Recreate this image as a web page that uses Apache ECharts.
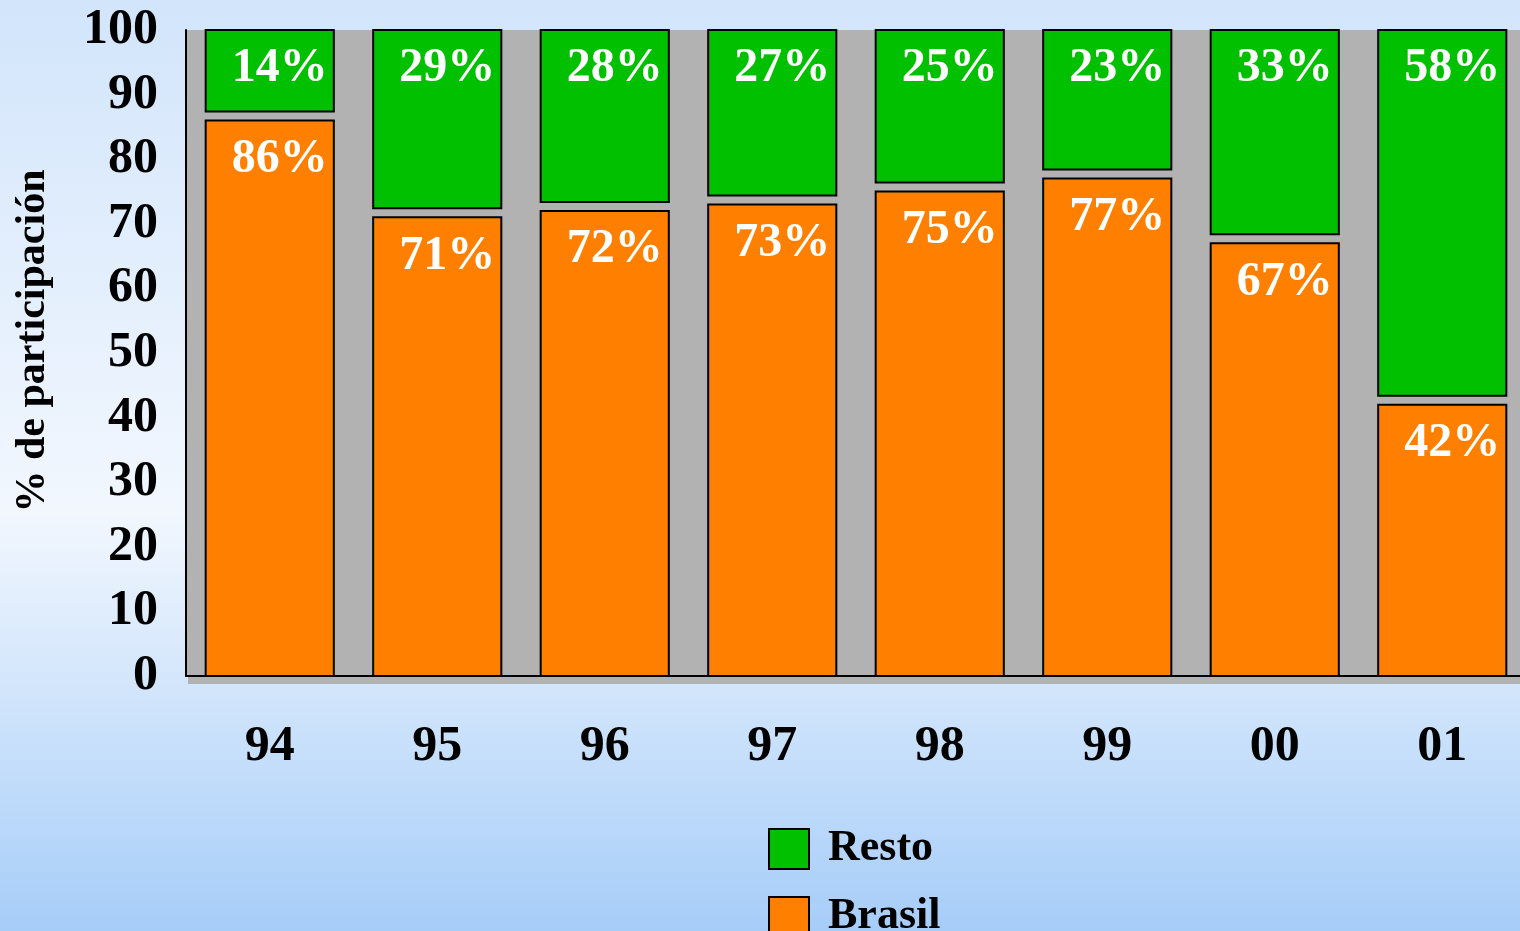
<!DOCTYPE html>
<html>
<head>
<meta charset="utf-8">
<script src="https://cdn.jsdelivr.net/npm/echarts@6/dist/echarts.min.js"></script>
<style>
  html, body { margin: 0; padding: 0; }
  #chart { width: 1520px; height: 931px; }
</style>
</head>
<body>
<div id="chart"></div>
<script>
const years = ["94", "95", "96", "97", "98", "99", "00", "01"];
const brasil = [86, 71, 72, 73, 75, 77, 67, 42];
const resto = [14, 29, 28, 27, 25, 23, 33, 58];
const yTicks = { min: 0, max: 100, interval: 10 };

const serif = "'Liberation Serif', 'DejaVu Serif', serif";
const orange = "#ff8000";
const green = "#00c000";
const barRatio = 0.765;
const gap = 9;

// one stacked segment, with its white % label in the top right corner
function segment(api, color, base, value, shrinkBottom) {
  const idx = api.value(0);
  const top = api.coord([idx, base + value]);
  const bottom = api.coord([idx, base]);
  const w = api.size([1, 0])[0] * barRatio;
  const h = bottom[1] - top[1] - shrinkBottom;
  return {
    type: "group",
    children: [
      {
        type: "rect",
        shape: { x: top[0] - w / 2, y: top[1], width: w, height: h },
        style: { fill: color, stroke: "#000", lineWidth: 2 },
      },
      {
        type: "text",
        style: {
          x: top[0] + w / 2 - 6,
          y: top[1] + 39,
          text: value + "%",
          align: "right",
          verticalAlign: "middle",
          fill: "#fff",
          font: "bold 48px " + serif,
        },
      },
    ],
  };
}

const chart = echarts.init(document.getElementById("chart"), null, { renderer: "canvas" });

chart.setOption({
  animation: false,
  backgroundColor: {
    type: "linear", x: 0, y: 0, x2: 0, y2: 1,
    colorStops: [
      { offset: 0, color: "#d2e5fb" },
      { offset: 0.55, color: "#f2f7fe" },
      { offset: 1, color: "#a6cdf8" },
    ],
  },
  grid: {
    left: 186, right: -6, top: 30, bottom: 255,
    outerBoundsMode: "none",
    containLabel: false,
    show: true, backgroundColor: "#b2b2b2", borderWidth: 0,
  },
  graphic: [
    // grey floor strip under the plot
    { type: "rect", left: 188, top: 676, shape: { width: 1340, height: 8 }, style: { fill: "#b2b2b2" }, z: 0 },
  ],
  xAxis: {
    type: "category",
    data: years,
    axisLine: { show: true, lineStyle: { color: "#000", width: 2 } },
    axisTick: { show: false },
    axisLabel: { color: "#000", fontFamily: serif, fontWeight: "bold", fontSize: 50, margin: 46 },
    splitLine: { show: false },
  },
  yAxis: {
    type: "value",
    min: yTicks.min, max: yTicks.max, interval: yTicks.interval,
    name: "% de participación",
    nameLocation: "middle",
    nameRotate: 90,
    nameGap: 132,
    nameTextStyle: { color: "#000", fontFamily: serif, fontWeight: "bold", fontSize: 42, padding: [0, 0, 0, 24] },
    axisLine: { show: true, lineStyle: { color: "#000", width: 2 } },
    axisTick: { show: false },
    axisLabel: { color: "#000", fontFamily: serif, fontWeight: "bold", fontSize: 50, margin: 28 },
    splitLine: { show: false },
  },
  legend: {
    orient: "vertical",
    left: 768, top: 827,
    height: 120,
    padding: 0,
    itemWidth: 40, itemHeight: 40, itemGap: 24,
    icon: "rect",
    data: ["Resto", "Brasil"],
    itemStyle: { borderColor: "#000", borderWidth: 2 },
    textStyle: { color: "#000", fontFamily: serif, fontWeight: "bold", fontSize: 44, padding: [0, 0, 0, 14] },
  },
  series: [
    {
      name: "Brasil",
      type: "custom",
      itemStyle: { color: orange },
      encode: { x: 0, y: 1 },
      data: brasil.map((v, i) => [i, v]),
      renderItem: (params, api) => segment(api, orange, 0, api.value(1), 0),
    },
    {
      name: "Resto",
      type: "custom",
      itemStyle: { color: green },
      encode: { x: 0, y: [1, 2] },
      data: resto.map((v, i) => [i, brasil[i], v]),
      renderItem: (params, api) => segment(api, green, api.value(1), api.value(2), gap),
    },
  ],
});
</script>
</body>
</html>
